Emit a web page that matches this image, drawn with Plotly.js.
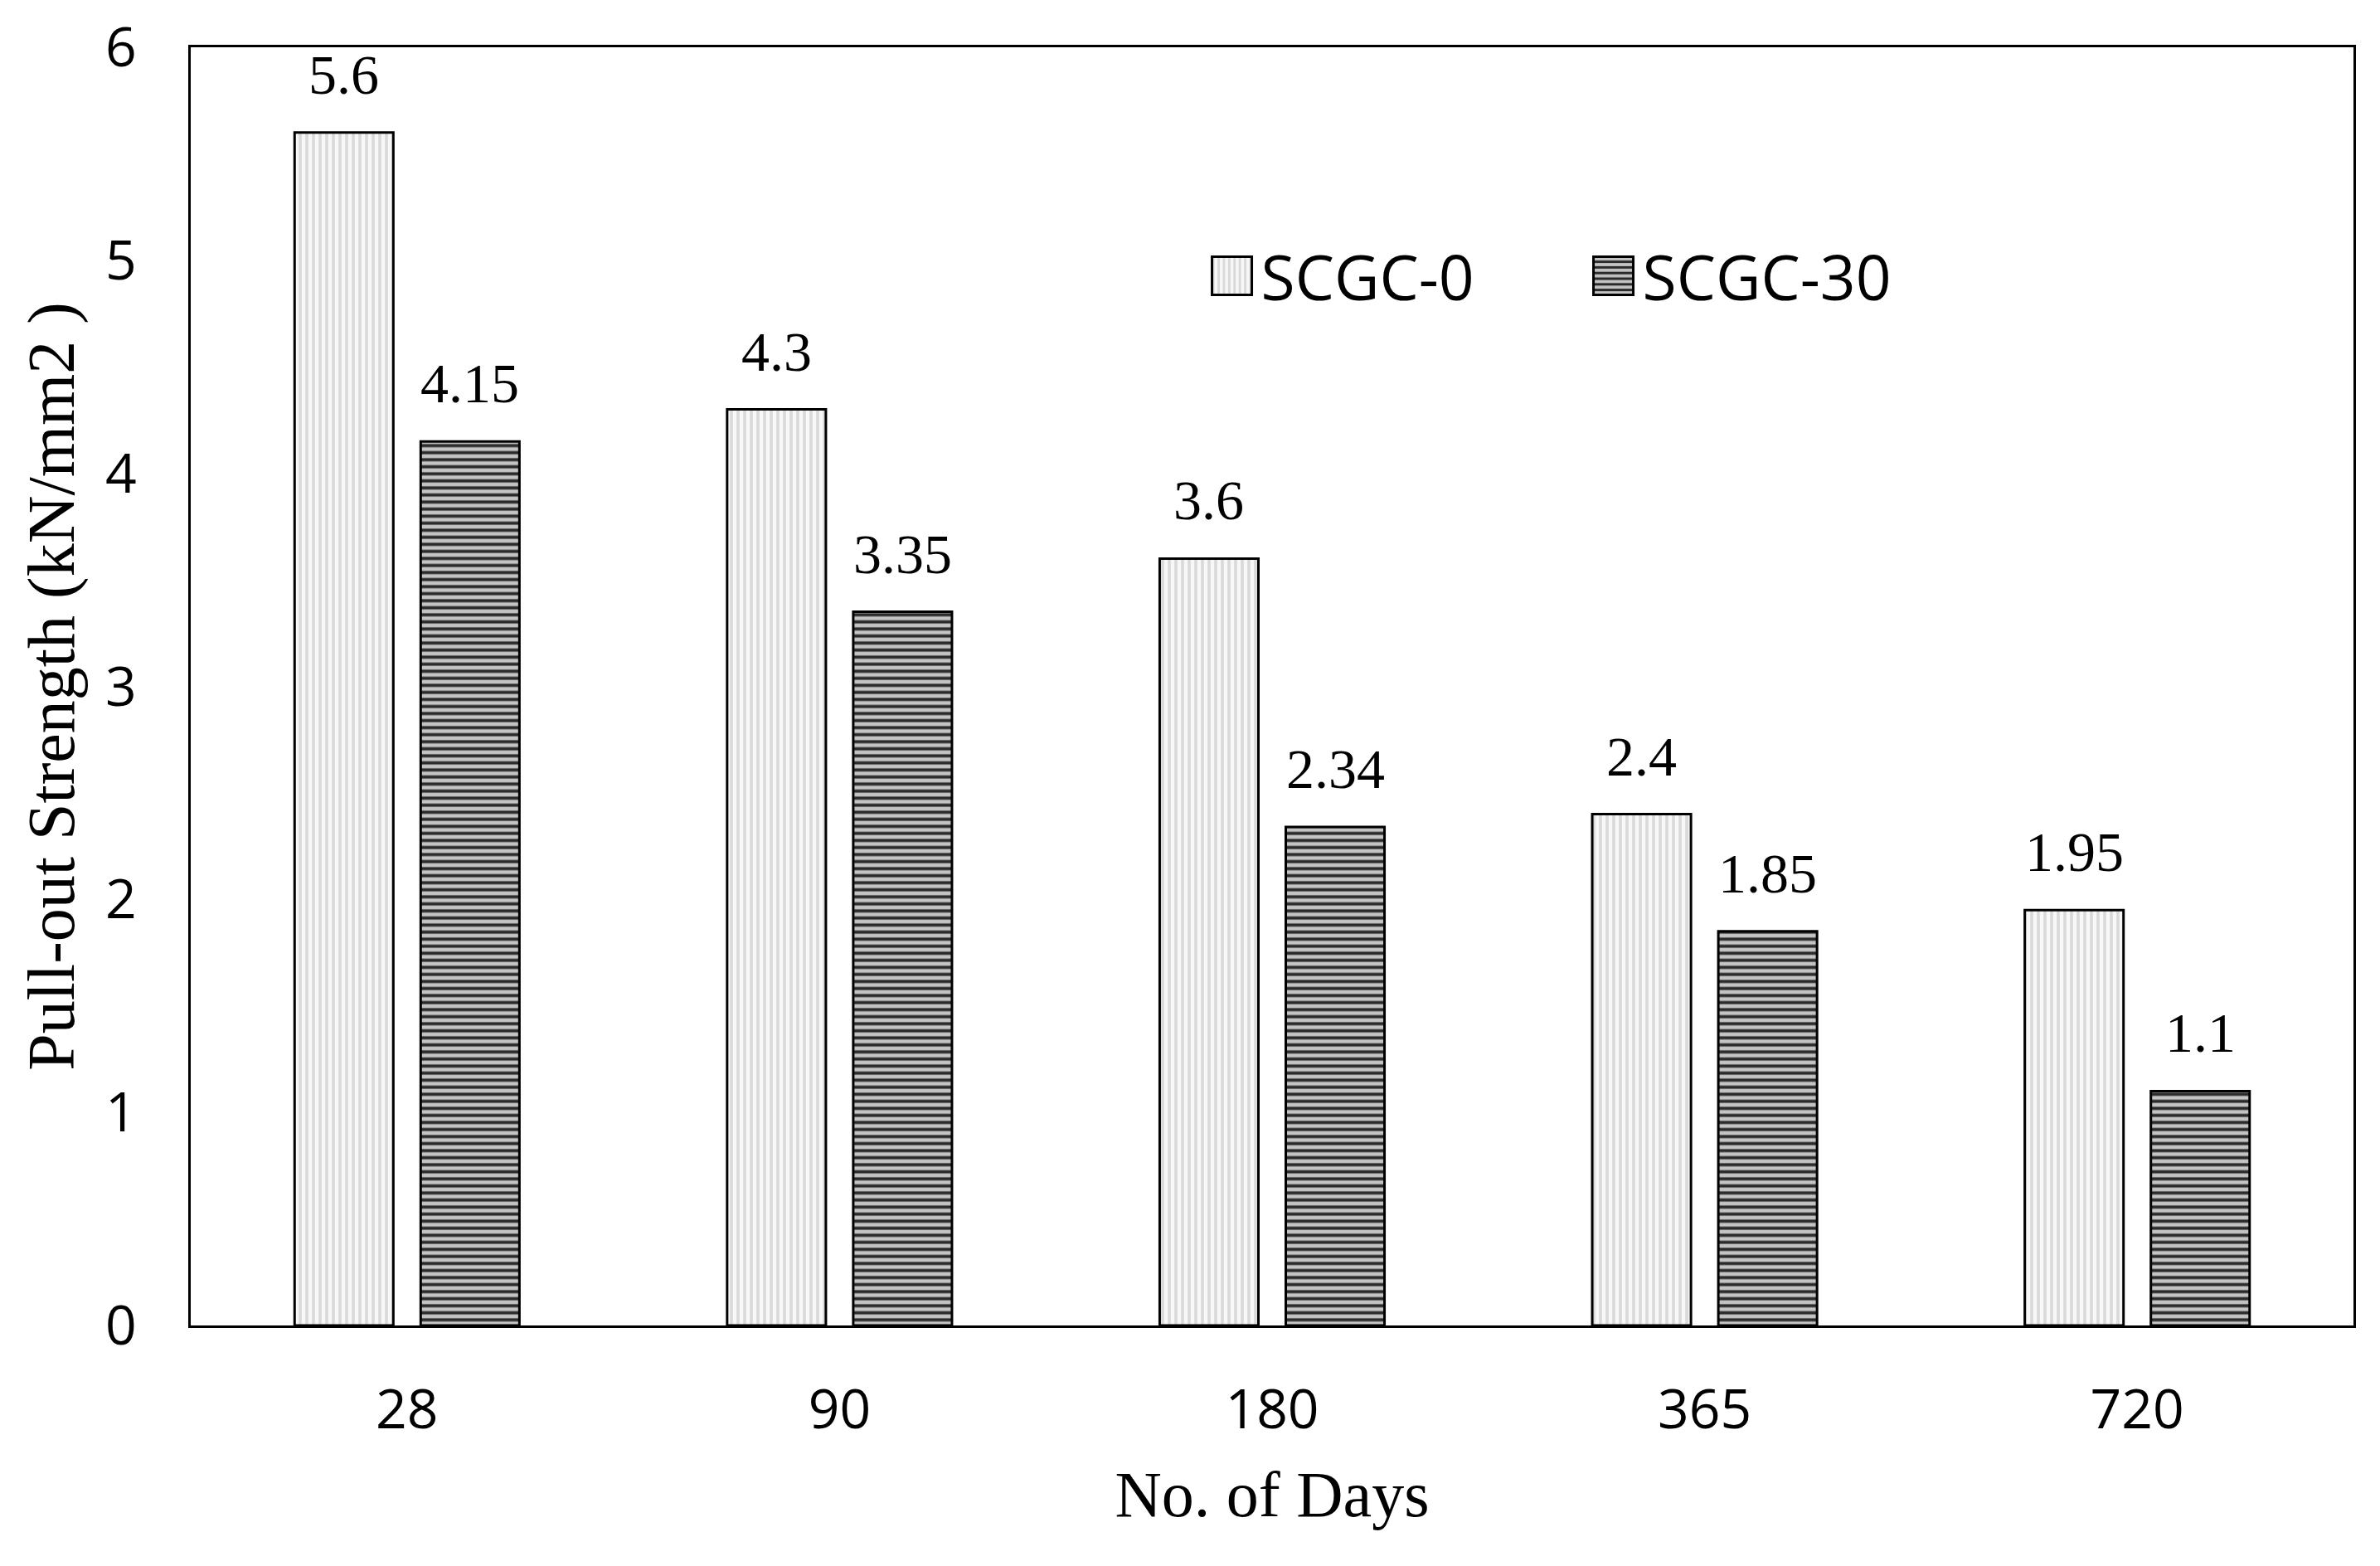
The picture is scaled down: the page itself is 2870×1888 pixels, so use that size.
<!DOCTYPE html>
<html>
<head>
<meta charset="utf-8">
<script src="https://cdn.plot.ly/plotly-3.0.1.min.js"></script>
<style>html,body{margin:0;padding:0;background:#fff;}#chart{width:2870px;height:1888px;}</style>
</head>
<body>
<div id="chart"></div>
<script>
// ---- data ----
const days = ['28', '90', '180', '365', '720'];
const scgc0 = [5.6, 4.3, 3.6, 2.4, 1.95];
const scgc30 = [4.15, 3.35, 2.34, 1.85, 1.1];
const seriesNames = ['SCGC-0', 'SCGC-30'];
const yTicks = [0, 1, 2, 3, 4, 5, 6];

const BARGAP = 0.417;
const BARGROUPGAP = 0.217;
const slot = (1 - BARGAP) / 2;
const offset = slot / 2;

const traces = [
  {
    type: 'bar', name: seriesNames[0], x: days, y: scgc0,
    marker: {
      color: '#f7f7f7',
      line: {color: '#000', width: 3},
      pattern: {shape: '|', bgcolor: '#f7f7f7', fgcolor: '#d9d9d9', size: 8, solidity: 0.45}
    },
    hoverinfo: 'skip'
  },
  {
    type: 'bar', name: seriesNames[1], x: days, y: scgc30,
    marker: {
      color: '#bdbdbd',
      line: {color: '#000', width: 3},
      pattern: {shape: '-', bgcolor: '#c4c4c4', fgcolor: '#2b2b2b', size: 8.5, solidity: 0.45}
    },
    hoverinfo: 'skip'
  }
];

const annotations = [];
[scgc0, scgc30].forEach((vals, s) => {
  vals.forEach((v, i) => {
    annotations.push({
      x: i + (s === 0 ? -offset : offset), y: v, xref: 'x', yref: 'y',
      text: String(v), showarrow: false, yanchor: 'bottom', yshift: 30,
      font: {family: 'Liberation Serif', size: 68, color: '#000'}
    });
  });
});

const layout = {
  width: 2870, height: 1888,
  paper_bgcolor: '#fff', plot_bgcolor: '#fff',
  margin: {l: 230, r: 32, t: 57, b: 290},
  barmode: 'group', bargap: BARGAP, bargroupgap: BARGROUPGAP,
  showlegend: true,
  legend: {
    orientation: 'h', x: 0.468, xanchor: 'left', y: 0.821, yanchor: 'middle',
    font: {family: 'Open Sans', size: 75, color: '#000'},
    itemwidth: 60, entrywidth: 385, entrywidthmode: 'pixels',
    bgcolor: 'rgba(0,0,0,0)', borderwidth: 0
  },
  xaxis: {
    type: 'category',
    showline: true, linecolor: '#000', linewidth: 3, mirror: true,
    showgrid: false, zeroline: false, ticks: '',
    ticklabelstandoff: 42,
    tickfont: {family: 'Open Sans', size: 66, color: '#000'},
    title: {text: 'No. of Days', standoff: 34, font: {family: 'Liberation Serif', size: 78, color: '#000'}}
  },
  yaxis: {
    range: [0, 6], tickvals: yTicks, ticktext: yTicks.map(String),
    showline: true, linecolor: '#000', linewidth: 3, mirror: true,
    showgrid: false, zeroline: false, ticks: '',
    ticklabelstandoff: 49,
    tickfont: {family: 'Open Sans', size: 66, color: '#000'},
    title: {text: 'Pull-out Strength (kN/mm2 )', standoff: 12, font: {family: 'Liberation Serif', size: 80, color: '#000'}}
  },
  annotations: annotations
};

Plotly.newPlot('chart', traces, layout, {displayModeBar: false, staticPlot: true}).then(() => {
  // enlarge legend swatches to match the reference
  document.querySelectorAll('.legend .legendpoints path').forEach(p => {
    p.setAttribute('d', 'M24,23H-24V-23H24Z');
  });
});
</script>
</body>
</html>
